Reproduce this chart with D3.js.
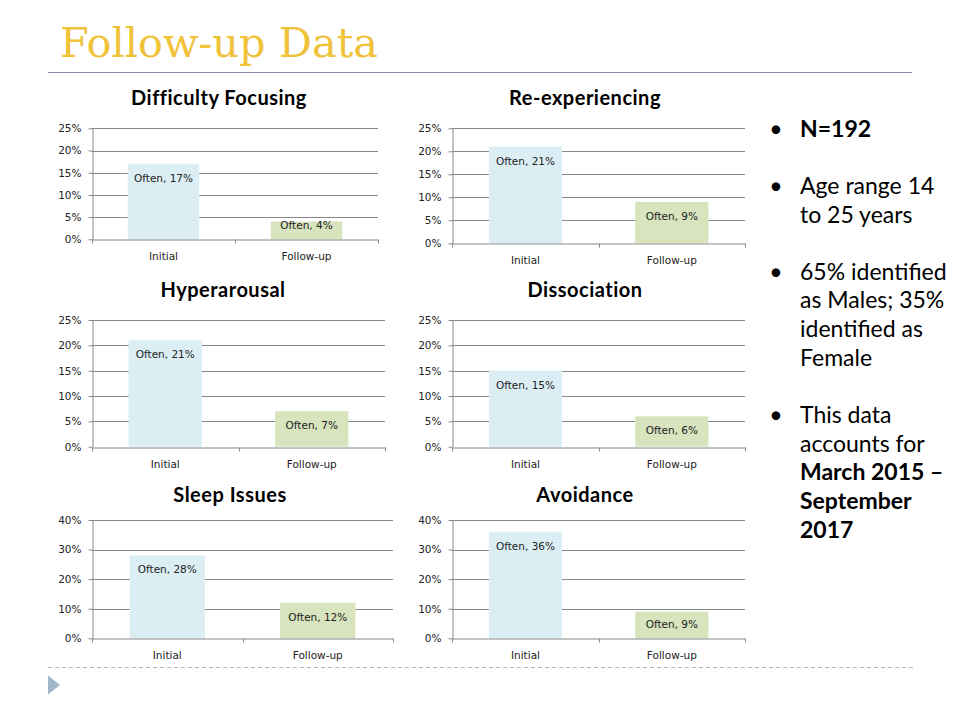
<!DOCTYPE html>
<html><head><meta charset="utf-8">
<script src="https://cdn.jsdelivr.net/npm/d3@7"></script>
<style>body{margin:0;background:#fff}svg{display:block}</style>
</head><body>
<svg id="c" width="960" height="720"></svg>
<script>
// ---------- data ----------
const pageTitle = "Follow-up Data";
const chartTitles = ["Difficulty Focusing", "Re-experiencing", "Hyperarousal", "Dissociation", "Sleep Issues", "Avoidance"];
const categories = ["Initial", "Follow-up"];
const seriesName = "Often";
const initialValues = [17, 21, 21, 15, 28, 36];
const followUpValues = [4, 9, 7, 6, 12, 9];
const axisMax = [25, 25, 25, 25, 40, 40];
const axisStep = [5, 5, 5, 5, 10, 10];
const bulletParagraphs = [
  [{t: "N=192", b: true}],
  [{t: "Age range 14"}, {t: "to 25 years"}],
  [{t: "65% identified"}, {t: "as Males; 35%"}, {t: "identified as"}, {t: "Female"}],
  [{t: "This data"}, {t: "accounts for"}, {t: "March 2015 –", b: true}, {t: "September", b: true}, {t: "2017", b: true}]
];

// ---------- layout ----------
const svg = d3.select("#c");
const panels = [
  {x0: 92, x1: 378, yT: 128.3, yB: 239.3, tx: 219, ty: 105},
  {x0: 452.3, x1: 745, yT: 128.3, yB: 243.3, tx: 585, ty: 105},
  {x0: 92, x1: 385, yT: 320, yB: 446.7, tx: 223, ty: 296.7},
  {x0: 452.3, x1: 745, yT: 320, yB: 446.7, tx: 585, ty: 296.7},
  {x0: 92, x1: 393, yT: 520, yB: 638.3, tx: 230, ty: 501.7},
  {x0: 452.3, x1: 745, yT: 520, yB: 638.3, tx: 585, ty: 502.3}
];
const colors = ["#DBEEF4", "#D7E4BD"];
const gridColor = "#888888";
const smallFont = "'DejaVu Sans', sans-serif";

// page title
svg.append("text").attr("x", 60).attr("y", 57)
  .attr("font-family", "'DejaVu Serif', serif").attr("font-size", 41)
  .attr("textLength", 318).attr("lengthAdjust", "spacingAndGlyphs")
  .attr("fill", "#EFC23A").text(pageTitle);
svg.append("line").attr("x1", 48).attr("x2", 912).attr("y1", 72.5).attr("y2", 72.5)
  .attr("stroke", "#8A8AA6").attr("stroke-width", 1.2);

// bottom dashed rule and triangle
svg.append("line").attr("x1", 48).attr("x2", 913).attr("y1", 667.5).attr("y2", 667.5)
  .attr("stroke", "#A9BCCB").attr("stroke-width", 1).attr("stroke-dasharray", "4,3");
svg.append("path").attr("d", "M48,675.5L60,685L48,694.5Z").attr("fill", "#A0B7CC");

chartTitles.forEach((title, i) => {
  const p = panels[i];
  const g = svg.append("g");
  const y = d3.scaleLinear().domain([0, axisMax[i]]).range([p.yB, p.yT]);
  const x = d3.scaleBand().domain(categories).range([p.x0, p.x1]).paddingInner(0.5).paddingOuter(0.25);
  const ticks = d3.range(0, axisMax[i] + axisStep[i] / 2, axisStep[i]);

  // gridlines
  g.selectAll(".grid").data(ticks.filter(t => t > 0)).join("line")
    .attr("x1", p.x0).attr("x2", p.x1)
    .attr("y1", d => Math.round(y(d)) + 0.5).attr("y2", d => Math.round(y(d)) + 0.5)
    .attr("stroke", gridColor).attr("stroke-width", 1);

  // bars
  const vals = [initialValues[i], followUpValues[i]];
  g.selectAll(".bar").data(categories).join("rect")
    .attr("x", d => x(d)).attr("width", x.bandwidth())
    .attr("y", (d, k) => y(vals[k])).attr("height", (d, k) => p.yB - y(vals[k]))
    .attr("fill", (d, k) => colors[k]);

  // data labels
  g.selectAll(".lbl").data(categories).join("text")
    .attr("x", d => x(d) + x.bandwidth() / 2)
    .attr("y", (d, k) => Math.min(y(vals[k]) + 18, p.yB - 10))
    .attr("text-anchor", "middle").attr("font-family", smallFont).attr("font-size", 10.5)
    .attr("fill", "#222").text((d, k) => `${seriesName}, ${vals[k]}%`);

  // y axis
  const ya = g.append("g").attr("transform", `translate(${Math.round(p.x0) + 0.5},0)`)
    .call(d3.axisLeft(y).tickValues(ticks).tickSize(4).tickSizeOuter(0).tickPadding(7)
      .tickFormat(d => d + "%"));
  ya.selectAll("path,line").attr("stroke", gridColor);
  ya.selectAll("text").attr("font-family", smallFont).attr("font-size", 10.5).attr("fill", "#222");

  // x axis
  const xa = g.append("g").attr("transform", `translate(0,${Math.round(p.yB) + 0.5})`)
    .call(d3.axisBottom(x).tickSize(0).tickSizeOuter(0).tickPadding(13));
  xa.select("path").attr("stroke", gridColor);
  xa.selectAll("text").attr("font-family", smallFont).attr("font-size", 10.5).attr("fill", "#222");
  const bounds = [p.x0, p.x0 + x.step(), p.x1];
  xa.selectAll(".bnd").data(bounds).join("line")
    .attr("x1", d => Math.round(d) + 0.5).attr("x2", d => Math.round(d) + 0.5)
    .attr("y1", 0).attr("y2", 4).attr("stroke", gridColor);

  // chart title
  svg.append("text").attr("x", p.tx).attr("y", p.ty).attr("text-anchor", "middle")
    .attr("font-family", "Lato, sans-serif").attr("font-weight", "bold").attr("font-size", 20)
    .attr("letter-spacing", 0.5)
    .attr("fill", "#000").text(title);
});

// bullets
const lineH = 28.7, paraGap = 28.3;
let by = 137;
const bg = svg.append("g").attr("font-family", "Lato, sans-serif").attr("font-size", 23).attr("fill", "#000");
bulletParagraphs.forEach(para => {
  bg.append("text").attr("x", 776).attr("y", by).attr("text-anchor", "middle").text("•");
  para.forEach(line => {
    bg.append("text").attr("x", 800).attr("y", by)
      .attr("font-weight", line.b ? "bold" : "normal").text(line.t);
    by += lineH;
  });
  by += paraGap;
});
</script>
</body></html>
